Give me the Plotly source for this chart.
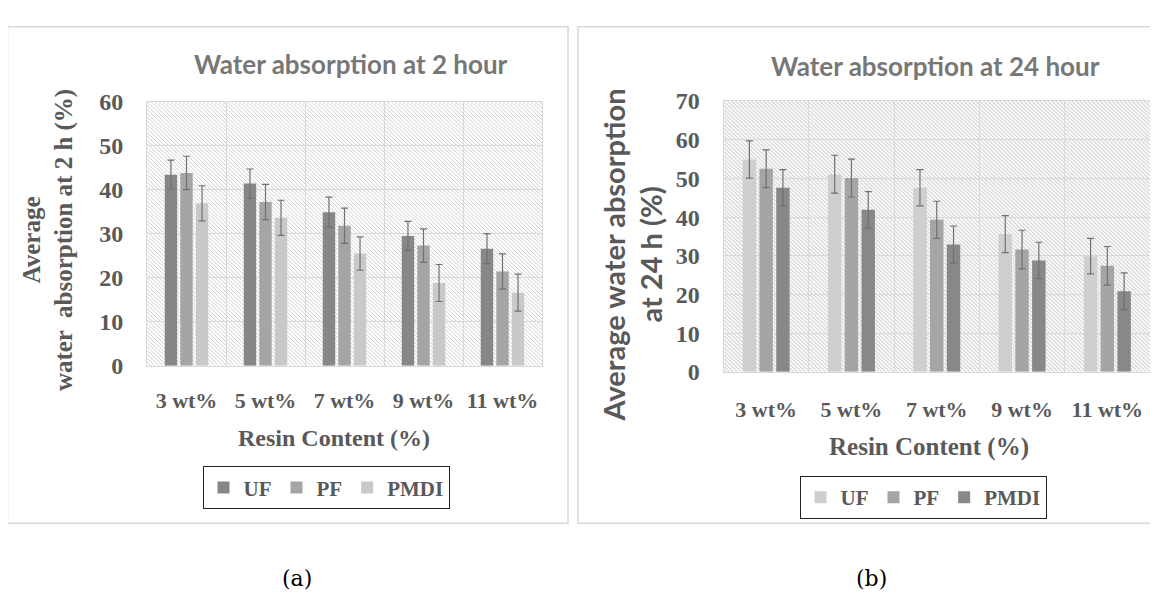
import base64
import plotly.graph_objects as go

# The page body has an 8px default margin, so the figure is drawn 8px in from the
# window edge; figure size and positions account for that offset.
WIN_W, WIN_H = 1158, 610
OFF = 8
W, H = WIN_W - OFF, WIN_H - OFF

categories = ["3 wt%", "5 wt%", "7 wt%", "9 wt%", "11 wt%"]
series = ["UF", "PF", "PMDI"]

# Panel (a): water absorption at 2 h
wa2_uf = [43.4, 41.4, 34.9, 29.5, 26.6]
wa2_pf = [43.8, 37.2, 31.8, 27.3, 21.4]
wa2_pmdi = [36.9, 33.6, 25.5, 18.8, 16.6]
wa2_uf_err = [3.3, 3.3, 3.4, 3.3, 3.4]
wa2_pf_err = [3.8, 4.0, 4.0, 3.8, 4.0]
wa2_pmdi_err = [4.0, 4.0, 3.8, 4.2, 4.2]

# Panel (b): water absorption at 24 h
wa24_uf = [54.9, 51.1, 47.6, 35.6, 29.9]
wa24_pf = [52.5, 50.1, 39.3, 31.6, 27.4]
wa24_pmdi = [47.6, 41.9, 32.9, 28.8, 20.8]
wa24_uf_err = [4.8, 4.9, 4.7, 4.8, 4.6]
wa24_pf_err = [4.9, 4.9, 4.8, 5.0, 5.0]
wa24_pmdi_err = [4.7, 4.7, 4.8, 4.7, 4.8]

colors_a = ["#878787", "#a5a5a5", "#c9c9c9"]
colors_b = ["#cfcfcf", "#a5a5a5", "#888888"]

ERR_COLOR = "#707070"
TICK_COLOR = "#595959"
GRID = "#d9d9d9"
SERIF = "Liberation Serif"
SANS = "Lato"

# window-pixel geometry of the two plot areas
A = dict(x0=147, x1=542, y0=92.3, y1=368.3)
B = dict(x0=723.5, x1=1150, y0=91.7, y1=374.6)


def px(x):
    return (x - OFF) / W


def py(y):
    return 1 - (y - OFF) / H


def hatch_svg(w, h):
    svg = (
        f'<svg xmlns="http://www.w3.org/2000/svg" width="{w}" height="{h}">'
        '<defs><pattern id="p" patternUnits="userSpaceOnUse" width="4" height="4">'
        '<rect width="4" height="4" fill="#ffffff"/>'
        '<path d="M-1,-1 L5,5 M-1,3 L1,5 M3,-1 L5,1" stroke="#c8c8c8" stroke-width="0.9"/>'
        '</pattern></defs>'
        f'<rect width="{w}" height="{h}" fill="url(#p)"/></svg>'
    )
    return "data:image/svg+xml;base64," + base64.b64encode(svg.encode()).decode()


fig = go.Figure()

data_a = [(wa2_uf, wa2_uf_err), (wa2_pf, wa2_pf_err), (wa2_pmdi, wa2_pmdi_err)]
data_b = [(wa24_uf, wa24_uf_err), (wa24_pf, wa24_pf_err), (wa24_pmdi, wa24_pmdi_err)]

for name, (vals, errs), col in zip(series, data_a, colors_a):
    fig.add_trace(go.Bar(
        x=categories, y=vals, name=name, marker=dict(color=col, line=dict(width=0)),
        error_y=dict(type="data", array=errs, visible=True, color=ERR_COLOR, thickness=1.2, width=3.5),
        xaxis="x", yaxis="y", legend="legend",
    ))

for name, (vals, errs), col in zip(series, data_b, colors_b):
    fig.add_trace(go.Bar(
        x=categories, y=vals, name=name, marker=dict(color=col, line=dict(width=0)),
        error_y=dict(type="data", array=errs, visible=True, color=ERR_COLOR, thickness=1.2, width=3.5),
        xaxis="x2", yaxis="y2", legend="legend2",
    ))

xcommon = dict(
    type="category", tickson="boundaries", showgrid=True, gridcolor=GRID, gridwidth=1,
    showline=True, linecolor=GRID, linewidth=1, mirror=True, ticks="", tickangle=0,
    tickfont=dict(family=SERIF, size=22, color=TICK_COLOR, weight="bold"),
)
ycommon = dict(
    showgrid=True, gridcolor=GRID, gridwidth=1, dtick=10,
    showline=True, linecolor=GRID, linewidth=1, mirror=True, ticks="", zeroline=False,
    tickfont=dict(family=SERIF, size=24, color=TICK_COLOR, weight="bold"),
    ticklabelstandoff=18,
)

legend_common = dict(
    orientation="h", xanchor="center", yanchor="middle",
    bordercolor="#222222", borderwidth=1, bgcolor="white",
    font=dict(family=SERIF, size=21, color=TICK_COLOR, weight="bold"),
    itemwidth=30, tracegroupgap=0,
)

fig.update_layout(
    width=W, height=H, margin=dict(l=0, r=0, t=0, b=0),
    paper_bgcolor="white", plot_bgcolor="rgba(0,0,0,0)",
    barmode="group", bargap=0.41, bargroupgap=0.2,
    xaxis=dict(domain=[px(A["x0"]), px(A["x1"])], anchor="y", ticklabelstandoff=15, **xcommon),
    yaxis=dict(domain=[py(A["y1"]), py(A["y0"])], anchor="x", range=[0, 60], **ycommon),
    xaxis2=dict(domain=[px(B["x0"]), px(B["x1"])], anchor="y2", ticklabelstandoff=18, **xcommon),
    yaxis2=dict(domain=[py(B["y1"]), py(B["y0"])], anchor="x2", range=[0, 70], **ycommon),
    legend=dict(x=px(326), y=py(496), **legend_common),
    legend2=dict(x=px(923), y=py(506), **legend_common),
    showlegend=True,
)

# hatched plot backgrounds
for G in (A, B):
    fig.add_layout_image(dict(
        source=hatch_svg(int(G["x1"] - G["x0"]), int(G["y1"] - G["y0"])),
        xref="paper", yref="paper", x=px(G["x0"]), y=py(G["y0"]),
        sizex=px(G["x1"]) - px(G["x0"]), sizey=py(G["y0"]) - py(G["y1"]),
        sizing="stretch", xanchor="left", yanchor="top", layer="below",
    ))

# panel frames
fig.add_shape(type="rect", xref="paper", yref="paper", x0=px(7.5), x1=px(568), y0=py(533), y1=py(14),
              line=dict(color="#d9d9d9", width=1.5), layer="below")
fig.add_shape(type="rect", xref="paper", yref="paper", x0=px(578), x1=px(1165), y0=py(533), y1=py(14),
              line=dict(color="#d9d9d9", width=1.5), layer="below")

ann = []
ann.append(dict(text="Water absorption at 2 hour", x=px(351), y=py(53),
                font=dict(family=SANS, size=26, color="#777777", weight="bold")))
ann.append(dict(text="Water absorption at 24 hour", x=px(935), y=py(55),
                font=dict(family=SANS, size=26, color="#777777", weight="bold")))
ann.append(dict(text="Resin Content (%)", x=px(334), y=py(444),
                font=dict(family=SERIF, size=24, color=TICK_COLOR, weight="bold")))
ann.append(dict(text="Resin Content (%)", x=px(929), y=py(453),
                font=dict(family=SERIF, size=25, color=TICK_COLOR, weight="bold")))
ann.append(dict(text="Average<br>water  absorption at 2 h (%)", x=px(48), y=py(237), textangle=-90,
                font=dict(family=SERIF, size=25, color=TICK_COLOR, weight="bold")))
ann.append(dict(text="Average water absorption<br>at 24 h (%)", x=px(632), y=py(253), textangle=-90,
                font=dict(family=SANS, size=29, color=TICK_COLOR, weight="bold")))
ann.append(dict(text="(a)", x=px(297), y=py(591),
                font=dict(family="DejaVu Serif", size=22, color="#000000")))
ann.append(dict(text="(b)", x=px(871), y=py(591),
                font=dict(family="DejaVu Serif", size=22, color="#000000")))
for a in ann:
    a.update(xref="paper", yref="paper", showarrow=False, xanchor="center", yanchor="middle")
fig.update_layout(annotations=ann)

fig.write_html("out.html")
